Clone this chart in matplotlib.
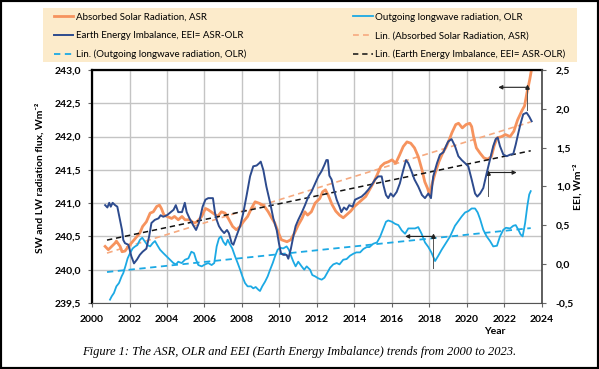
import matplotlib
matplotlib.use('Agg')
import matplotlib.pyplot as plt
from matplotlib.patches import Rectangle
from matplotlib.ticker import FuncFormatter

plt.rcParams['font.family'] = ['Lato', 'DejaVu Sans']

# Absorbed Solar Radiation (left axis, W/m2)
asr_years = [2000.7, 2000.87, 2001.05, 2001.23, 2001.3, 2001.5, 2001.6, 2001.76, 2001.94, 2002.1,
             2002.4, 2002.55, 2002.7, 2002.9, 2003.1, 2003.27, 2003.45, 2003.6, 2003.7, 2003.84,
             2004.0, 2004.25, 2004.4, 2004.6, 2004.8, 2004.96, 2005.2, 2005.44, 2005.6, 2005.85,
             2006.05, 2006.2, 2006.45, 2006.7, 2006.9, 2007.1, 2007.27, 2007.5, 2007.7, 2007.9,
             2008.07, 2008.3, 2008.5, 2008.7, 2008.9, 2009.05, 2009.2, 2009.4, 2009.6, 2009.75,
             2009.95, 2010.1, 2010.4, 2010.6, 2010.8, 2011.0, 2011.2, 2011.35, 2011.5, 2011.7,
             2011.9, 2012.15, 2012.3, 2012.45, 2012.6, 2012.8, 2013.0, 2013.2, 2013.4, 2013.6,
             2013.8, 2014.0, 2014.2, 2014.4, 2014.6, 2014.8, 2015.0, 2015.2, 2015.4, 2015.6,
             2015.8, 2016.0, 2016.2, 2016.4, 2016.6, 2016.8, 2017.0, 2017.2, 2017.4, 2017.6,
             2017.75, 2017.9, 2018.0, 2018.15, 2018.3, 2018.5, 2018.7, 2018.9, 2019.05, 2019.2,
             2019.4, 2019.55, 2019.75, 2019.95, 2020.15, 2020.25, 2020.35, 2020.5, 2020.7, 2020.9,
             2021.1, 2021.3, 2021.45, 2021.6, 2021.85, 2022.05, 2022.3, 2022.5, 2022.7, 2022.95,
             2023.07, 2023.2, 2023.35, 2023.45]
asr_flux = [240.35, 240.30, 240.35, 240.40, 240.43, 240.35, 240.27, 240.28, 240.35, 240.40,
            240.50, 240.55, 240.65, 240.72, 240.85, 240.87, 240.95, 240.97, 240.92, 240.82,
            240.80, 240.77, 240.80, 240.75, 240.80, 240.75, 240.75, 240.70, 240.72, 240.80,
            240.92, 240.90, 240.85, 240.80, 240.87, 240.85, 240.77, 240.65, 240.60, 240.65,
            240.72, 240.80, 240.92, 241.02, 241.00, 240.98, 240.95, 240.87, 240.77, 240.70,
            240.55, 240.45, 240.42, 240.45, 240.55, 240.67, 240.77, 240.87, 240.82, 240.87,
            241.00, 241.07, 241.17, 241.20, 241.12, 240.98, 240.88, 240.82, 240.78, 240.83,
            240.88, 240.95, 241.00, 241.05, 241.10, 241.20, 241.30, 241.42, 241.55, 241.60,
            241.62, 241.65, 241.60, 241.72, 241.85, 241.92, 241.90, 241.83, 241.70, 241.50,
            241.32, 241.22, 241.13, 241.30, 241.45, 241.62, 241.75, 241.85, 241.95, 242.06,
            242.18, 242.20, 242.13, 242.18, 242.20, 242.15, 242.00, 241.83, 241.75, 241.68,
            241.66, 241.70, 241.86, 241.98, 242.00, 242.03, 242.00, 242.08, 242.25, 242.40,
            242.46, 242.66, 242.86, 243.02]

# Outgoing longwave radiation (left axis, W/m2)
olr_years = [2000.96, 2001.05, 2001.17, 2001.3, 2001.44, 2001.58, 2001.67, 2001.8, 2001.9, 2002.03,
             2002.17, 2002.3, 2002.42, 2002.56, 2002.68, 2002.83, 2002.95, 2003.1, 2003.24, 2003.36,
             2003.48, 2003.63, 2003.8, 2003.98, 2004.16, 2004.34, 2004.48, 2004.6, 2004.78, 2004.96,
             2005.14, 2005.3, 2005.44, 2005.55, 2005.67, 2005.85, 2006.03, 2006.2, 2006.38, 2006.52,
             2006.65, 2006.77, 2006.88, 2007.0, 2007.13, 2007.24, 2007.36, 2007.48, 2007.63, 2007.77,
             2007.9, 2008.02, 2008.16, 2008.3, 2008.48, 2008.6, 2008.73, 2008.87, 2008.96, 2009.08,
             2009.23, 2009.37, 2009.5, 2009.64, 2009.76, 2009.9, 2010.03, 2010.2, 2010.38, 2010.5,
             2010.6, 2010.74, 2010.86, 2011.0, 2011.18, 2011.32, 2011.45, 2011.63, 2011.75, 2011.9,
             2012.07, 2012.25, 2012.4, 2012.5, 2012.7, 2012.87, 2013.05, 2013.2, 2013.4, 2013.58,
             2013.76, 2013.94, 2014.1, 2014.3, 2014.47, 2014.65, 2014.8, 2015.0, 2015.2, 2015.36,
             2015.54, 2015.68, 2015.8, 2016.0, 2016.16, 2016.34, 2016.52, 2016.7, 2016.87, 2017.05,
             2017.23, 2017.4, 2017.58, 2017.76, 2017.94, 2018.1, 2018.3, 2018.47, 2018.65, 2018.83,
             2019.1, 2019.36, 2019.54, 2019.72, 2019.9, 2020.07, 2020.25, 2020.43, 2020.57, 2020.7,
             2020.87, 2021.05, 2021.23, 2021.4, 2021.6, 2021.76, 2021.94, 2022.08, 2022.3, 2022.47,
             2022.6, 2022.74, 2022.86, 2022.97, 2023.1, 2023.22, 2023.32, 2023.4]
olr_flux = [239.55, 239.60, 239.65, 239.75, 239.80, 239.90, 239.95, 240.07, 240.17, 240.25,
            240.32, 240.35, 240.37, 240.45, 240.48, 240.42, 240.37, 240.35, 240.40, 240.43,
            240.37, 240.30, 240.25, 240.20, 240.15, 240.10, 240.08, 240.12, 240.10, 240.15,
            240.17, 240.27, 240.25, 240.15, 240.07, 240.05, 240.08, 240.10, 240.07, 240.10,
            240.35, 240.47, 240.50, 240.42, 240.37, 240.45, 240.38, 240.32, 240.20, 240.10,
            240.00, 239.90, 239.80, 239.75, 239.75, 239.72, 239.74, 239.70, 239.68, 239.75,
            239.82, 239.90, 240.00, 240.10, 240.20, 240.30, 240.33, 240.32, 240.35, 240.30,
            240.22, 240.12, 240.05, 240.12, 240.05, 240.00, 240.05, 240.00, 239.92, 239.90,
            239.87, 239.85, 239.88, 239.93, 240.03, 240.08, 240.10, 240.08, 240.15, 240.16,
            240.21, 240.24, 240.26, 240.26, 240.31, 240.34, 240.34, 240.39, 240.41, 240.49,
            240.62, 240.72, 240.74, 240.72, 240.69, 240.67, 240.59, 240.54, 240.62, 240.62,
            240.62, 240.64, 240.54, 240.41, 240.34, 240.26, 240.13, 240.21, 240.30, 240.38,
            240.50, 240.66, 240.73, 240.80, 240.86, 240.88, 240.92, 240.92, 240.86, 240.76,
            240.60, 240.50, 240.43, 240.35, 240.36, 240.50, 240.60, 240.63, 240.62, 240.66,
            240.67, 240.60, 240.53, 240.50, 240.70, 240.96, 241.13, 241.18]

# Earth Energy Imbalance (right axis, W/m2)
eei_years = [2000.7, 2000.82, 2000.92, 2001.0, 2001.1, 2001.23, 2001.35, 2001.46, 2001.6, 2001.67,
             2001.76, 2001.94, 2002.1, 2002.24, 2002.4, 2002.55, 2002.7, 2002.9, 2003.05, 2003.17,
             2003.35, 2003.55, 2003.66, 2003.8, 2004.0, 2004.15, 2004.35, 2004.47, 2004.6, 2004.8,
             2004.95, 2005.05, 2005.2, 2005.4, 2005.55, 2005.7, 2005.9, 2006.05, 2006.2, 2006.45,
             2006.56, 2006.65, 2006.77, 2006.9, 2007.05, 2007.2, 2007.3, 2007.45, 2007.54, 2007.7,
             2007.9, 2008.07, 2008.25, 2008.43, 2008.6, 2008.78, 2008.92, 2009.0, 2009.14, 2009.3,
             2009.5, 2009.67, 2009.85, 2009.97, 2010.08, 2010.2, 2010.38, 2010.47, 2010.6, 2010.74,
             2010.86, 2011.0, 2011.18, 2011.36, 2011.54, 2011.7, 2011.9, 2012.07, 2012.25, 2012.4,
             2012.5, 2012.58, 2012.66, 2012.78, 2012.9, 2013.05, 2013.2, 2013.3, 2013.44, 2013.58,
             2013.72, 2013.9, 2014.03, 2014.2, 2014.38, 2014.56, 2014.74, 2014.92, 2015.1, 2015.27,
             2015.45, 2015.54, 2015.68, 2015.8, 2015.93, 2016.07, 2016.25, 2016.42, 2016.6, 2016.75,
             2016.87, 2017.05, 2017.2, 2017.4, 2017.6, 2017.76, 2017.94, 2018.08, 2018.2, 2018.4,
             2018.56, 2018.74, 2018.88, 2019.0, 2019.18, 2019.36, 2019.54, 2019.72, 2019.9, 2020.07,
             2020.25, 2020.43, 2020.55, 2020.7, 2020.87, 2021.05, 2021.23, 2021.4, 2021.53, 2021.64,
             2021.76, 2021.94, 2022.12, 2022.3, 2022.47, 2022.6, 2022.74, 2022.86, 2023.0, 2023.18,
             2023.32, 2023.45]
eei_flux = [0.76, 0.73, 0.79, 0.74, 0.79, 0.76, 0.74, 0.61, 0.44, 0.31,
            0.27, 0.25, 0.10, 0.01, 0.06, 0.12, 0.16, 0.20, 0.36, 0.53,
            0.57, 0.59, 0.63, 0.61, 0.63, 0.66, 0.70, 0.76, 0.67, 0.67,
            0.79, 0.67, 0.59, 0.50, 0.44, 0.53, 0.74, 0.83, 0.85, 0.85,
            0.66, 0.57, 0.49, 0.44, 0.40, 0.44, 0.40, 0.27, 0.25, 0.36,
            0.49, 0.66, 0.89, 1.13, 1.26, 1.27, 1.30, 1.32, 1.21, 1.00,
            0.79, 0.59, 0.44, 0.27, 0.14, 0.12, 0.12, 0.07, 0.19, 0.36,
            0.49, 0.57, 0.66, 0.76, 0.87, 0.93, 1.04, 1.13, 1.20, 1.28,
            1.34, 1.34, 1.14, 1.09, 0.96, 0.83, 0.74, 0.67, 0.73, 0.70,
            0.76, 0.74, 0.83, 0.85, 0.87, 0.91, 0.96, 1.02, 1.09, 1.13,
            1.13, 1.02, 0.89, 0.85, 0.91, 0.87, 0.93, 1.04, 1.21, 1.34,
            1.30, 1.19, 1.09, 1.00, 0.89, 0.85, 0.91, 0.85, 1.13, 1.30,
            1.41, 1.44, 1.52, 1.58, 1.61, 1.52, 1.39, 1.34, 1.30, 1.26,
            1.09, 0.91, 0.87, 0.91, 0.98, 1.17, 1.35, 1.52, 1.61, 1.63,
            1.52, 1.41, 1.39, 1.41, 1.42, 1.54, 1.69, 1.81, 1.93, 1.95,
            1.90, 1.84]

# linear trends (start / end)
trend_years = [2000.8, 2023.4]
asr_trend = [240.25, 242.22]
olr_trend = [239.965, 240.625]
eei_trend = [0.31, 1.46]

# arrow markers (year, foot, top, arrow tip year) in left-axis units
arrow_x = [2023.18, 2021.14, 2018.2]
arrow_lo = [242.4, 241.1, 240.02]
arrow_hi = [242.74, 241.46, 240.5]
arrow_tip = [2021.67, 2022.65, 2016.7]

c_asr = '#f6935e'
c_eei = '#2d4b8e'
c_olr = '#1ca9e4'

fig = plt.figure(figsize=(5.99, 3.69), dpi=100)
ax = fig.add_axes([0.1536, 0.1789, 0.7512, 0.6314])
ax2 = ax.twinx()

l_olr_t, = ax.plot(trend_years, olr_trend, color=c_olr, lw=1.3, ls=(0, (3.5, 2.5)),
                   label='Lin. (Outgoing longwave radiation, OLR)')
l_asr_t, = ax.plot(trend_years, asr_trend, color='#f6aa80', lw=1.2, ls=(0, (3.5, 2.5)),
                   label='Lin. (Absorbed Solar Radiation, ASR)')
l_olr, = ax.plot(olr_years, olr_flux, color=c_olr, lw=1.3, label='Outgoing longwave radiation, OLR')
l_asr, = ax.plot(asr_years, asr_flux, color=c_asr, lw=2.0, label='Absorbed Solar Radiation, ASR')
l_eei_t, = ax2.plot(trend_years, eei_trend, color='#111111', lw=1.1, ls=(0, (3.5, 2.5)),
                    label='Lin. (Earth Energy Imbalance, EEI= ASR-OLR)')
l_eei, = ax2.plot(eei_years, eei_flux, color=c_eei, lw=1.4, label='Earth Energy Imbalance, EEI= ASR-OLR')

for xv, lo, hi, tip in zip(arrow_x, arrow_lo, arrow_hi, arrow_tip):
    ax.plot([xv, xv], [lo, hi + 0.03], color='#555555', lw=0.7, zorder=5)
    ax.annotate('', xy=(tip, hi), xytext=(xv, hi),
                arrowprops=dict(arrowstyle='-|>', color='#222222', lw=0.8,
                                mutation_scale=6, shrinkA=0, shrinkB=0), zorder=6)
    ax.plot([xv], [hi], marker='^', ms=2.5, color='#222222', zorder=6)

ax.set_xlim(2000, 2024)
ax.set_ylim(239.5, 243.0)
ax2.set_ylim(-0.5, 2.5)
ax.set_xticks(range(2000, 2025, 2))
ax.set_yticks([239.5 + 0.5 * i for i in range(8)])
ax2.set_yticks([-0.5 + 0.5 * i for i in range(7)])
comma = FuncFormatter(lambda v, p: f'{v:.1f}'.replace('.', ','))
ax.yaxis.set_major_formatter(comma)
ax2.yaxis.set_major_formatter(comma)

ax.grid(True, color='#c4c4c4', lw=1.0)
ax.set_axisbelow(True)
for a in (ax, ax2):
    a.tick_params(labelsize=7.5, length=3, width=0.8, color='#666666', pad=5)
    for lab in a.get_xticklabels() + a.get_yticklabels():
        lab.set_fontweight('bold')
ax.tick_params(axis='x', pad=6)
ax2.tick_params(axis='y', pad=7)
ax.spines['left'].set_color('black')
ax.spines['left'].set_linewidth(1.6)
ax.spines['top'].set_color('black')
ax.spines['top'].set_linewidth(1.6)
ax.spines['bottom'].set_color('#555555')
ax.spines['right'].set_visible(False)
ax2.spines['left'].set_visible(False)
ax2.spines['top'].set_visible(False)
ax2.spines['bottom'].set_visible(False)
ax2.spines['right'].set_color('#444444')
ax2.spines['right'].set_linewidth(1.2)

fig.text(40 / 599, 1 - 178 / 369, 'SW and LW radiation flux, Wm⁻²', rotation=90,
         ha='center', va='center', fontsize=7.5, fontweight='bold')
fig.text(578 / 599, 1 - 187 / 369, 'EEI, Wm⁻²', rotation=90,
         ha='center', va='center', fontsize=7.5, fontweight='bold')
fig.text(495 / 599, 1 - 331 / 369, 'Year', ha='center', va='center',
         fontsize=7.5, fontweight='bold')

fig.patches.append(Rectangle((43 / 599, 1 - 62 / 369), 534 / 599, 54 / 369,
                             transform=fig.transFigure, facecolor='#fcebcb',
                             edgecolor='none', zorder=0))
fig.legend(handles=[l_asr, l_eei, l_olr_t, l_olr, l_asr_t, l_eei_t], ncol=2,
           loc='upper left', bbox_to_anchor=(50 / 599, 1 - 9 / 369), frameon=False,
           fontsize=7, handlelength=2.0, handletextpad=0.25, labelspacing=0.98,
           columnspacing=11.0, borderaxespad=0)

fig.text(0.5, 1 - 352 / 369,
         'Figure 1: The ASR, OLR and EEI (Earth Energy Imbalance) trends from 2000 to 2023.',
         family='Liberation Serif', style='italic', fontsize=9, ha='center', va='center')

fig.patches.append(Rectangle((0, 0), 1, 1, transform=fig.transFigure, fill=False,
                             edgecolor='black', lw=3, zorder=10))

fig.savefig('out.png', dpi=100)
